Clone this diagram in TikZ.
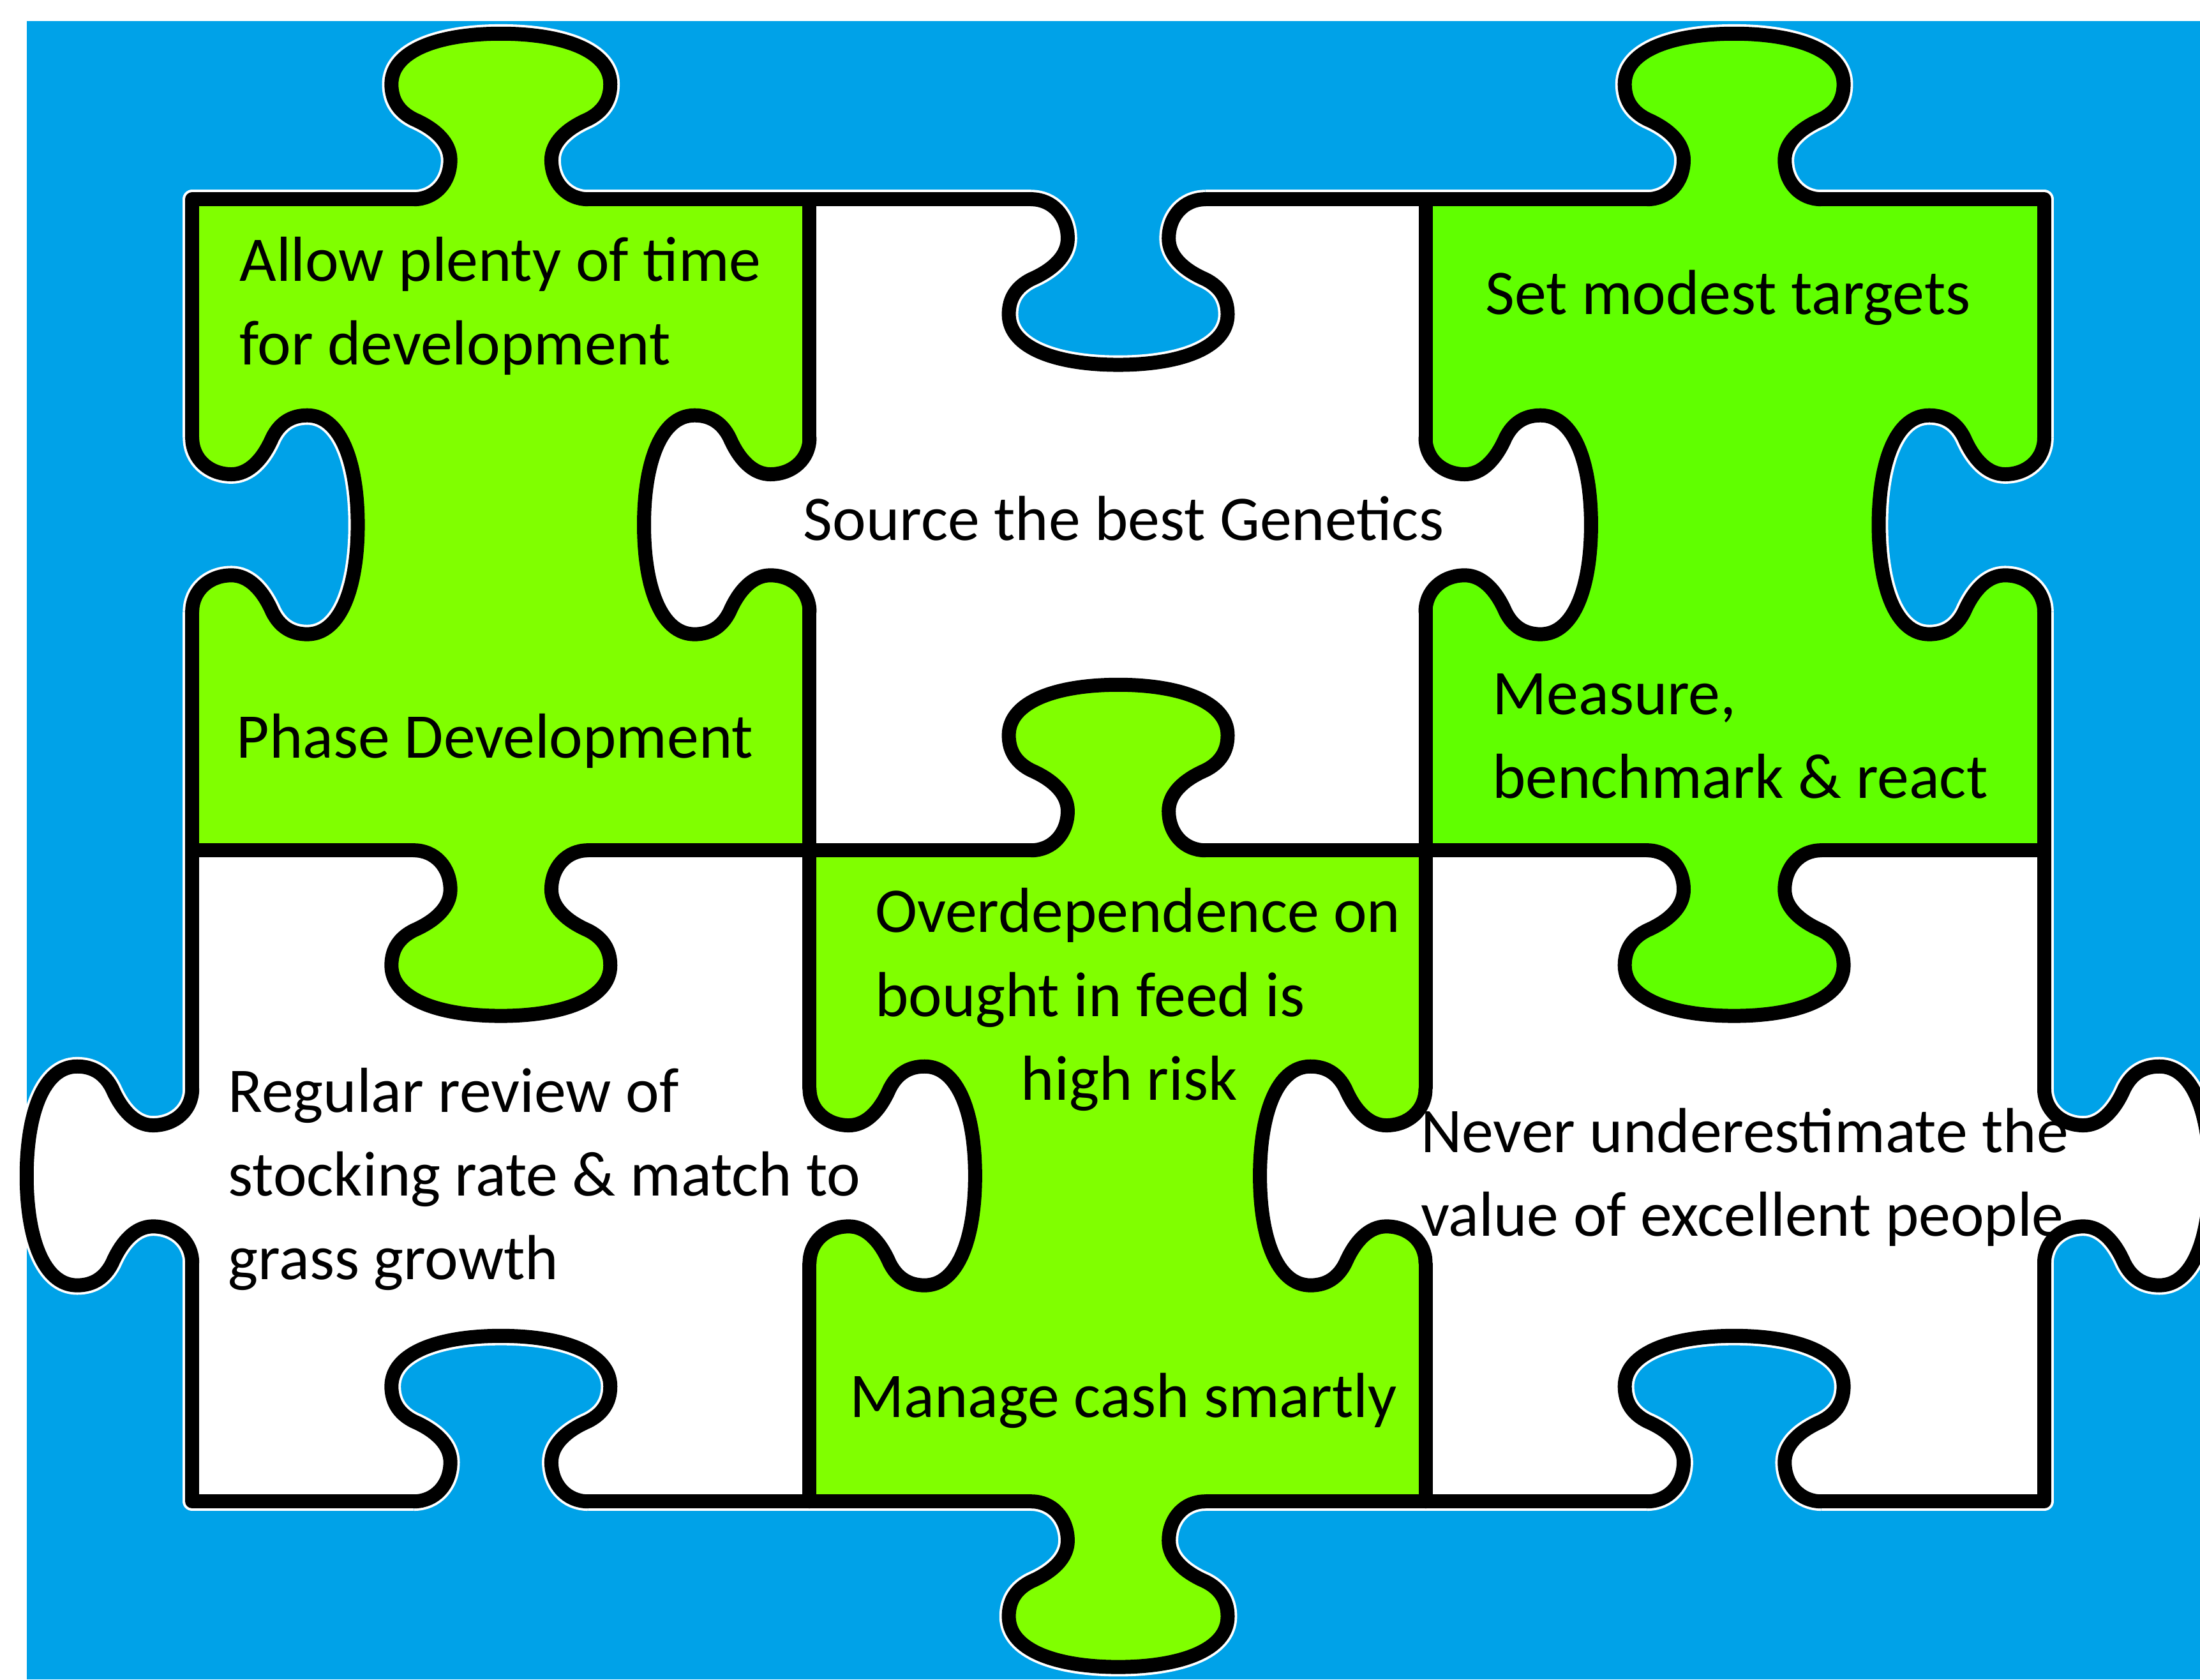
\documentclass[tikz,border=0pt]{standalone}
\usepackage{fontspec}
\setmainfont{Carlito}
\usepackage{tikz}

\definecolor{bgblue}{RGB}{0,162,232}
\definecolor{lime}{RGB}{128,255,0}
\definecolor{darklime}{RGB}{96,255,0}
\newcommand\puzzlefont{\fontsize{12.9pt}{17pt}\selectfont}
\def\knobcurve{.. controls (-47,0) and (-36,12) .. (-36,28) .. controls (-36,40) and (-46,50) .. (-62,57) .. controls (-72,62) and (-78,70) .. (-78,82) .. controls (-78,106) and (-44,118) .. (0,118) .. controls (44,118) and (78,106) .. (78,82) .. controls (78,70) and (72,62) .. (62,57) .. controls (46,50) and (36,40) .. (36,28) .. controls (36,12) and (47,0) .. (62,0)}

\tikzset{
	outline/.style={draw=black, line width=1mm, line cap=round, line join=round},
	halo/.style={draw=white, line width=1.35mm, line cap=butt, line join=round},
	txt/.style={font=\puzzlefont, text=black, inner sep=0pt, anchor=base west, align=left},
	pics/knob/.style={code={
		\fill[#1] (-62,-7) -- (-62,0) \knobcurve -- (62,-7) -- cycle;
		\draw[outline] (-62,0) \knobcurve;
	}},
	pics/outknob/.style={code={
		\draw[halo] (-62,0) \knobcurve;
		\fill[#1] (-62,-7) -- (-62,0) \knobcurve -- (62,-7) -- cycle;
		\draw[outline] (-62,0) \knobcurve;
	}},
	pics/hole/.style={code={
		\fill[bgblue] (-62,-7) -- (-62,0) \knobcurve -- (62,-7) -- cycle;
		\begin{scope}
			\clip (-62,-7) -- (-62,0) \knobcurve -- (62,-7) -- cycle;
			\draw[halo] (-62,0) \knobcurve;
		\end{scope}
		\draw[outline] (-62,0) \knobcurve;
	}}
}

\begin{document}
\begin{tikzpicture}[x=0.01cm, y=-0.01cm]
				\useasboundingbox (0,0) rectangle (1568,1197);
				\fill[white] (0,0) rectangle (1568,1197);
				\fill[bgblue] (19,15) rectangle (1568,1197);
				\draw[halo] (137,142) rectangle (1457,1070);
				\fill[lime] (137,142) rectangle (577,606);
				\fill[white] (577,142) rectangle (1016,606);
				\fill[darklime] (1016,142) rectangle (1457,606);
				\fill[white] (137,606) rectangle (577,1070);
				\fill[lime] (577,606) rectangle (1016,1070);
				\fill[white] (1016,606) rectangle (1457,1070);
				\draw[outline] (137,142) rectangle (1457,1070);
				\draw[outline] (577,142) -- (577,1070);
				\draw[outline] (1016,142) -- (1016,1070);
				\draw[outline] (137,606) -- (1457,606);
				\pic[rotate=180] at (357,142) {outknob=lime};
				\pic at (797,142) {hole};
				\pic[rotate=180] at (1236,142) {outknob=darklime};
				\pic[rotate=180] at (357,1070) {hole};
				\pic at (797,1070) {outknob=lime};
				\pic[rotate=180] at (1236,1070) {hole};
				\pic[rotate=90] at (137,374) {hole};
				\pic[rotate=-90] at (137,838) {outknob=white};
				\pic[rotate=-90] at (1457,374) {hole};
				\pic[rotate=90] at (1457,838) {outknob=white};
				\pic[rotate=-90] at (577,374) {knob=white};
				\pic[rotate=90] at (577,838) {knob=white};
				\pic[rotate=90] at (1016,374) {knob=white};
				\pic[rotate=-90] at (1016,838) {knob=white};
				\pic at (357,606) {knob=lime};
				\pic[rotate=180] at (797,606) {knob=lime};
				\pic at (1236,606) {knob=darklime};
				\node[txt] (allow) at (170,260) {Allow plenty of time\\for development};
				\node[txt] (phase) at (168,540) {Phase Development};
				\node[txt] (source) at (572,385) {Source the best Genetics};
				\node[txt] (targets) at (1058,224) {Set modest targets};
				\node[txt] (measure) at (1063,569) {Measure,\\benchmark \& react};
				\node[txt] (overdep) at (623,784) {Overdependence on\\bought in feed is\\\hspace*{10.4mm}high risk};
				\node[txt] (cash) at (605,1010) {Manage cash smartly};
				\node[txt] (review) at (162,912) {Regular review of\\stocking rate \& match to\\grass growth};
				\node[txt] (people) at (1012,881) {Never underestimate the\\value of excellent people};
			\end{tikzpicture}
\end{document}
